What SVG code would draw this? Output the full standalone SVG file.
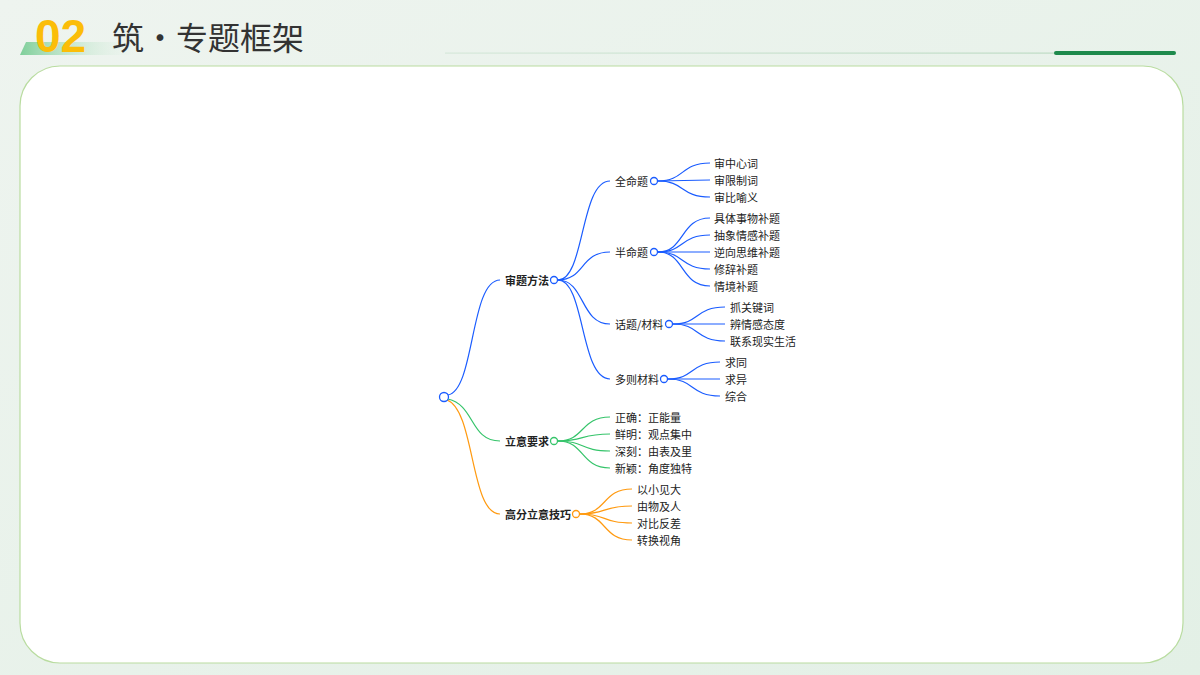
<svg xmlns="http://www.w3.org/2000/svg" width="1200" height="675" viewBox="0 0 1200 675">
<defs>
<linearGradient id="bg" x1="0" y1="0" x2="1" y2="1"><stop offset="0" stop-color="#eef4ef"/><stop offset="1" stop-color="#e3f0e6"/></linearGradient>
<linearGradient id="bar" x1="0" y1="0" x2="1" y2="0"><stop offset="0" stop-color="#7fcf9a"/><stop offset="1" stop-color="#e6f3e9" stop-opacity="0"/></linearGradient>
<linearGradient id="ln" x1="0" y1="0" x2="1" y2="0"><stop offset="0" stop-color="#d6e8da"/><stop offset="1" stop-color="#b9d9c0"/></linearGradient>
<style>
text{font-family:"Noto Sans CJK SC","Liberation Sans",sans-serif;font-size:11px;fill:#222;dominant-baseline:central}
.b{font-weight:bold}
.cb{fill:#fff;stroke:#1a5cff;stroke-width:1.3}
.cg{fill:#fff;stroke:#35c46a;stroke-width:1.3}
.co{fill:#fff;stroke:#ff9a10;stroke-width:1.3}
.lb path{fill:none;stroke:#1a5cff;stroke-width:1.2}
.lg path{fill:none;stroke:#35c46a;stroke-width:1.2}
.lo path{fill:none;stroke:#ff9a10;stroke-width:1.2}
</style>
</defs>
<rect width="1200" height="675" fill="url(#bg)"/>
<polygon points="26,42 140,42 140,55 20,55" fill="url(#bar)"/>
<text x="35" y="36" style="font-family:'Liberation Sans',sans-serif;font-size:46px;font-weight:bold;fill:#fbbd08">02</text>
<text x="112" y="36" style="font-size:32px;fill:#333">筑·专题框架</text>
<rect x="445" y="52.5" width="730" height="1.2" fill="url(#ln)"/>
<rect x="1054" y="51" width="122" height="4" rx="2" fill="#1e8a4c"/>
<rect x="20" y="66" width="1163" height="597" rx="40" fill="#fff" stroke="#b9dca0" stroke-width="1.2"/>

<g id="connectors">
<g class="lb">
<path d="M448,395 C475,390 470,280 500,280"/>
<path d="M558,280 C585,280 580,181 610,181"/>
<path d="M558,280 C585,280 580,252 610,252"/>
<path d="M558,280 C585,280 580,324 610,324"/>
<path d="M558,280 C585,280 580,379 610,379"/>
<path d="M658,181 C685,181 680,163 710,163"/>
<path d="M658,181 L710,180"/>
<path d="M658,181 C685,181 680,197 710,197"/>
<path d="M658,252 C685,252 680,218 710,218"/>
<path d="M658,252 C685,252 680,235 710,235"/>
<path d="M658,252 L710,252"/>
<path d="M658,252 C685,252 680,269 710,269"/>
<path d="M658,252 C685,252 680,286 710,286"/>
<path d="M673,324 C700,324 695,307 725,307"/>
<path d="M673,324 L725,324"/>
<path d="M673,324 C700,324 695,341 725,341"/>
<path d="M668,379 C695,379 690,362 720,362"/>
<path d="M668,379 L720,379"/>
<path d="M668,379 C695,379 690,396 720,396"/>
</g>
<g class="lg">
<path d="M448,399 C475,405 470,441 500,441"/>
<path d="M558,441 C585,441 580,417 610,417"/>
<path d="M558,441 C585,441 580,434 610,434"/>
<path d="M558,441 C585,441 580,451 610,451"/>
<path d="M558,441 C585,441 580,468 610,468"/>
</g>
<g class="lo">
<path d="M447,400 C475,410 470,514 500,514"/>
<path d="M580,514 C607,514 602,489 632,489"/>
<path d="M580,514 C607,514 602,506 632,506"/>
<path d="M580,514 C607,514 602,523 632,523"/>
<path d="M580,514 C607,514 602,540 632,540"/>
</g>
</g>

<g id="root"><circle class="cb" cx="444" cy="397" r="4.5"/></g>
<g id="n1"><text x="505" y="280" class="b">审题方法</text><circle class="cb" cx="554" cy="280" r="3.5"/></g>
<g id="n11"><text x="615" y="181">全命题</text><circle class="cb" cx="654" cy="181" r="3.5"/></g>
<g id="n111"><text x="714" y="163">审中心词</text></g>
<g id="n112"><text x="714" y="180">审限制词</text></g>
<g id="n113"><text x="714" y="197">审比喻义</text></g>
<g id="n12"><text x="615" y="252">半命题</text><circle class="cb" cx="654" cy="252" r="3.5"/></g>
<g id="n121"><text x="714" y="218">具体事物补题</text></g>
<g id="n122"><text x="714" y="235">抽象情感补题</text></g>
<g id="n123"><text x="714" y="252">逆向思维补题</text></g>
<g id="n124"><text x="714" y="269">修辞补题</text></g>
<g id="n125"><text x="714" y="286">情境补题</text></g>
<g id="n13"><text x="615" y="324">话题/材料</text><circle class="cb" cx="669" cy="324" r="3.5"/></g>
<g id="n131"><text x="730" y="307">抓关键词</text></g>
<g id="n132"><text x="730" y="324">辨情感态度</text></g>
<g id="n133"><text x="730" y="341">联系现实生活</text></g>
<g id="n14"><text x="615" y="379">多则材料</text><circle class="cb" cx="664" cy="379" r="3.5"/></g>
<g id="n141"><text x="725" y="362">求同</text></g>
<g id="n142"><text x="725" y="379">求异</text></g>
<g id="n143"><text x="725" y="396">综合</text></g>
<g id="n2"><text x="505" y="441" class="b">立意要求</text><circle class="cg" cx="554" cy="441" r="3.5"/></g>
<g id="n21"><text x="615" y="417">正确：正能量</text></g>
<g id="n22"><text x="615" y="434">鲜明：观点集中</text></g>
<g id="n23"><text x="615" y="451">深刻：由表及里</text></g>
<g id="n24"><text x="615" y="468">新颖：角度独特</text></g>
<g id="n3"><text x="505" y="514" class="b">高分立意技巧</text><circle class="co" cx="576" cy="514" r="3.5"/></g>
<g id="n31"><text x="637" y="489">以小见大</text></g>
<g id="n32"><text x="637" y="506">由物及人</text></g>
<g id="n33"><text x="637" y="523">对比反差</text></g>
<g id="n34"><text x="637" y="540">转换视角</text></g>
</svg>
